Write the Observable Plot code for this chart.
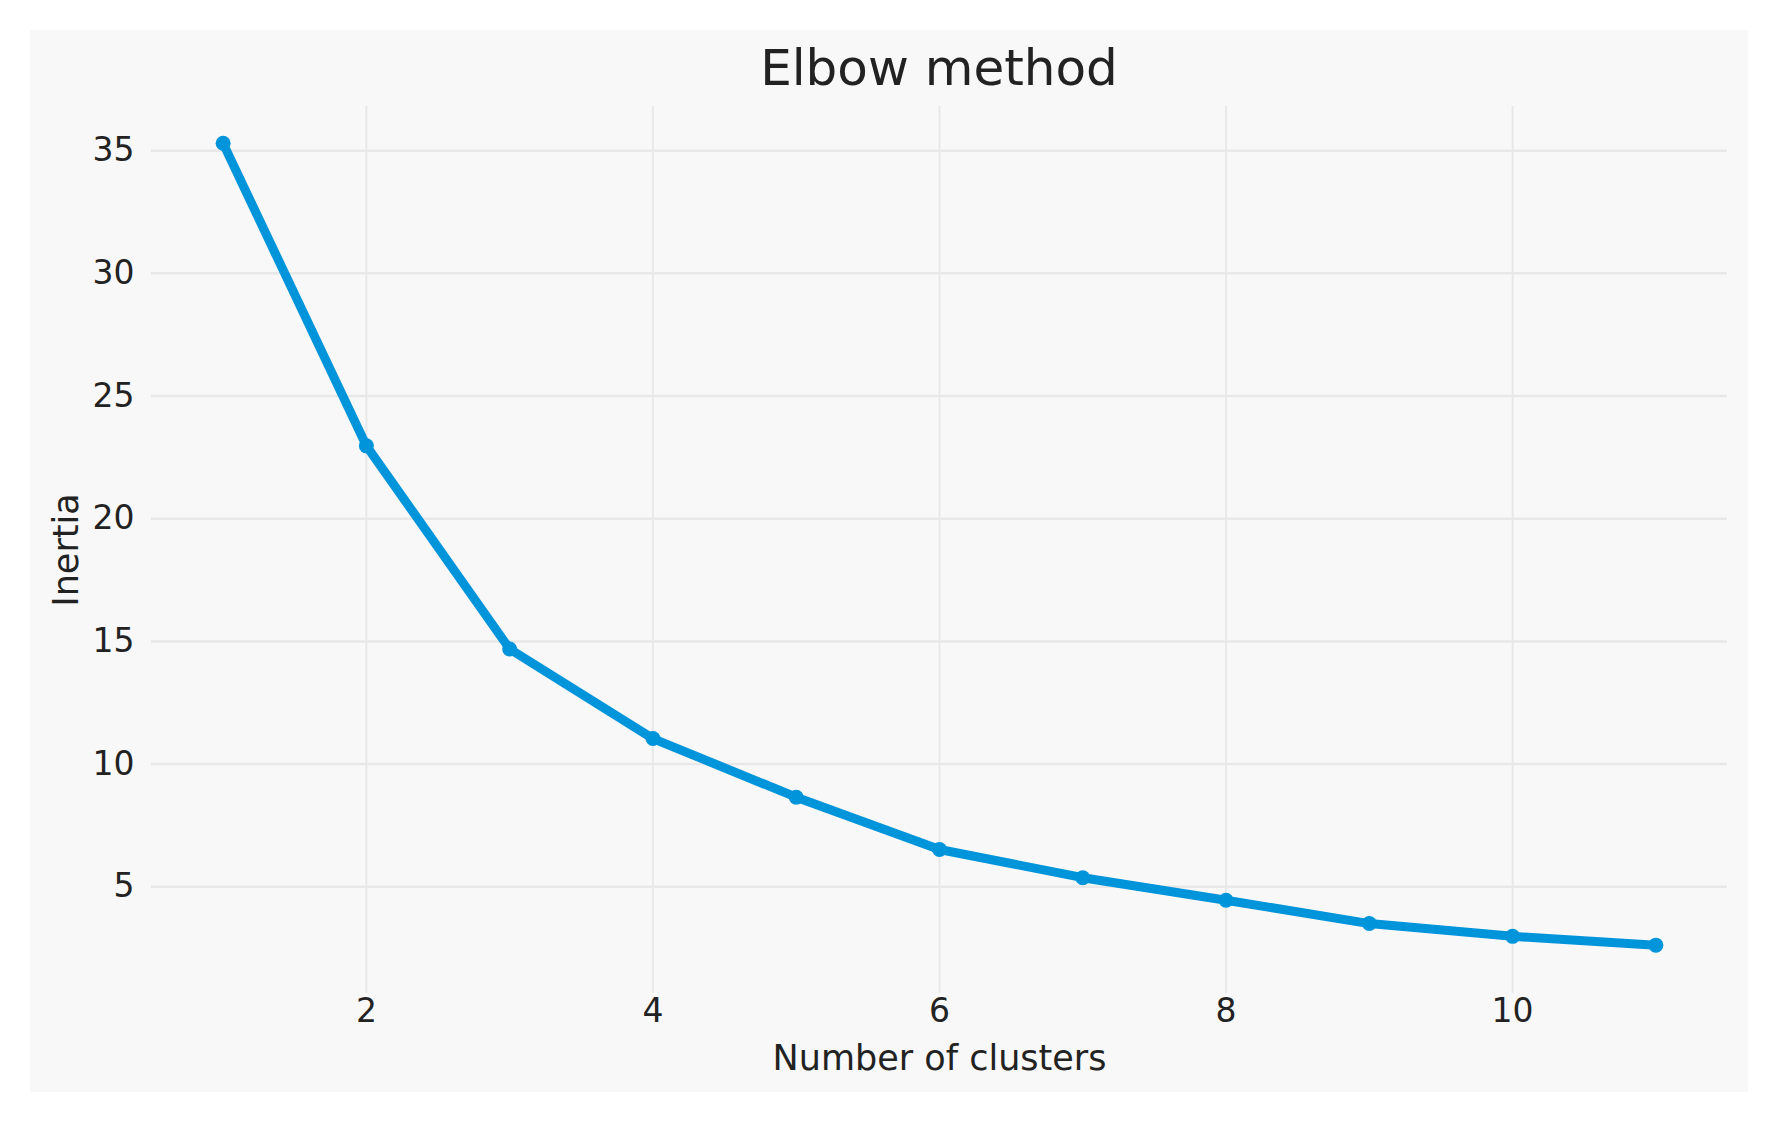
<!DOCTYPE html>
<html>
<head>
<meta charset="utf-8">
<script src="https://cdn.jsdelivr.net/npm/d3@7"></script>
<script src="https://cdn.jsdelivr.net/npm/@observablehq/plot@0.6"></script>
<style>
  html, body { margin: 0; padding: 0; background: #ffffff; }
  body { width: 1779px; height: 1128px; position: relative; overflow: hidden; font-family: "DejaVu Sans", sans-serif; }
  #panel { position: absolute; left: 30px; top: 30px; width: 1718px; height: 1062px; background: #f8f8f8; }
  #title { height: 60px; line-height: 60px; padding-top: 8px; padding-left: 100px; text-align: center; font-size: 50px; color: #222; }
  #chart svg { display: block; background: transparent; }
</style>
</head>
<body>
<div id="panel">
  <div id="title">Elbow method</div>
  <div id="chart"></div>
</div>
<script>
const clusters = [1, 2, 3, 4, 5, 6, 7, 8, 9, 10, 11];
const inertia = [35.3, 22.97, 14.69, 11.04, 8.65, 6.52, 5.37, 4.45, 3.5, 2.98, 2.62];
const xTicks = [2, 4, 6, 8, 10];
const yTicks = [5, 10, 15, 20, 25, 30, 35];
const xLabel = "Number of clusters";
const yLabel = "Inertia";

const data = clusters.map((k, i) => ({k, v: inertia[i]}));
const color = "#0094db";
const gridColor = "#e8e8e8";

const chart = Plot.plot({
  width: 1718,
  height: 994,
  marginLeft: 121,
  marginRight: 21,
  marginTop: 8,
  marginBottom: 99,
  style: { fontFamily: "DejaVu Sans, sans-serif", background: "transparent", color: "#222" },
  x: { domain: [0.5, 11.5] },
  y: { domain: [0.65, 36.8] },
  marks: [
    Plot.gridX(xTicks, { stroke: gridColor, strokeOpacity: 1, strokeWidth: 2 }),
    Plot.gridY(yTicks, { stroke: gridColor, strokeOpacity: 1, strokeWidth: 2.5 }),
    Plot.axisX(xTicks, {
      tickSize: 0, tickPadding: 5, fontSize: 33, fill: "#222", tickFormat: d => String(d),
      label: xLabel, labelAnchor: "center", labelArrow: "none", labelOffset: 76
    }),
    Plot.axisY(yTicks, {
      tickSize: 0, tickPadding: 17, fontSize: 33, fill: "#222", tickFormat: d => String(d),
      label: yLabel, labelAnchor: "center", labelArrow: "none", labelOffset: 98
    }),
    Plot.line(data, { x: "k", y: "v", stroke: color, strokeWidth: 9, strokeLinejoin: "round", strokeLinecap: "round" }),
    Plot.dot(data, { x: "k", y: "v", fill: color, r: 7.5 })
  ]
});
chart.querySelectorAll("g[aria-label='x-axis label'] text, g[aria-label='y-axis label'] text").forEach(t => t.setAttribute("font-size", "35"));
document.getElementById("chart").appendChild(chart);
</script>
</body>
</html>
